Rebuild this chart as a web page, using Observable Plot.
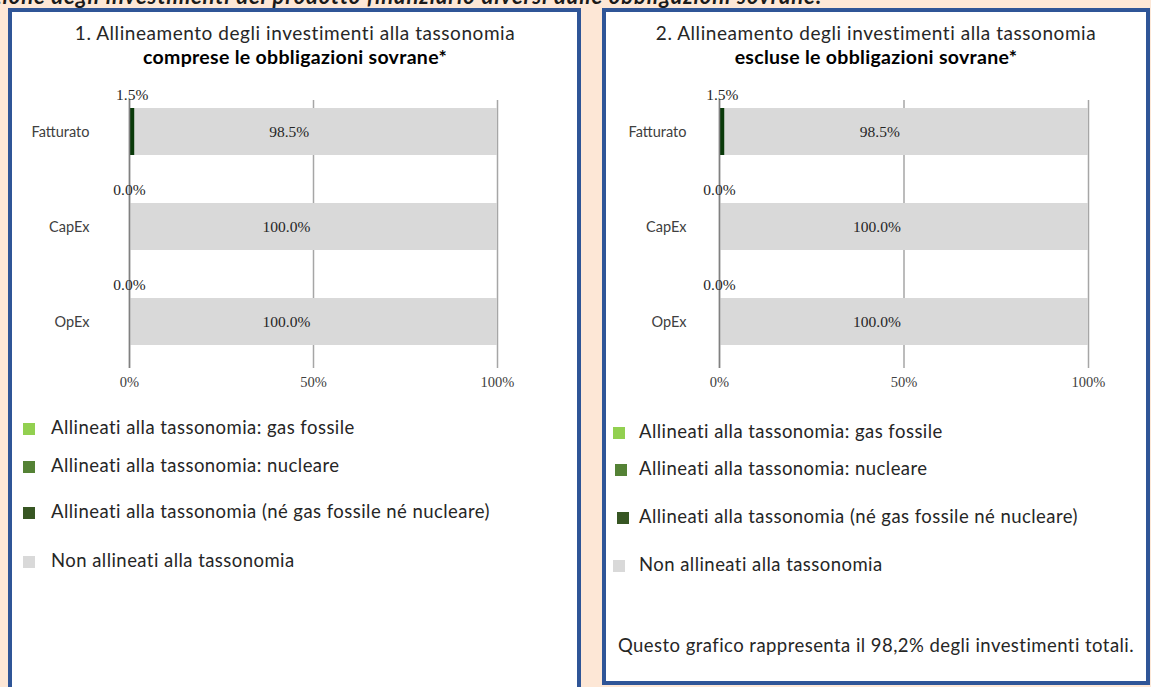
<!DOCTYPE html>
<html>
<head>
<meta charset="utf-8">
<script src="https://cdn.jsdelivr.net/npm/d3@7"></script>
<script src="https://cdn.jsdelivr.net/npm/@observablehq/plot@0.6"></script>
<style>
  html, body { margin: 0; padding: 0; }
  body { width: 1151px; height: 687px; overflow: hidden; position: relative; background: #fde7d6; font-family: Lato, "Noto Sans", sans-serif; color: #262626; }
  .abs { position: absolute; }
  .panel { position: absolute; box-sizing: border-box; border: 4px solid #2f5597; background: #fff; }
  .title { position: absolute; text-align: center; white-space: nowrap; font-size: 19px; line-height: 22px; color: #262626; }
  .legend-item { position: absolute; white-space: nowrap; font-size: 18.5px; letter-spacing: 0.45px; line-height: 22px; color: #262626; }
  .sw { position: absolute; width: 12px; height: 12px; }
  svg.chart g[aria-label="y-axis tick label"] { font-family: Lato, sans-serif; font-size: 14.5px; }
  svg.chart g[aria-label="x-axis tick label"] { font-family: "Liberation Serif", serif; font-size: 14.5px; }
  svg.chart g[aria-label="text"] { font-family: "Liberation Serif", serif; font-size: 15.5px; }
</style>
</head>
<body>
<div class="abs" id="header" style="left:-8px; top:-15px; font-weight:bold; font-style:italic; font-size:22px; letter-spacing:0.9px; line-height:22px; white-space:nowrap; color:#1a1a1a;">zione degli investimenti del prodotto finanziario diversi dalle obbligazioni sovrane:</div>
<div class="panel" style="left:8px; top:8px; width:573px; height:700px;"></div>
<div class="panel" style="left:602px; top:8px; width:548px; height:677px;"></div>
<div id="root"></div>
<script>
// ---------------- data ----------------
const categories = ["Fatturato", "CapEx", "OpEx"];
const seriesNames = [
  "Allineati alla tassonomia: gas fossile",
  "Allineati alla tassonomia: nucleare",
  "Allineati alla tassonomia (né gas fossile né nucleare)",
  "Non allineati alla tassonomia"
];
// panel 1: including sovereign bonds
const p1GasFossile = [0, 0, 0];
const p1Nucleare = [0, 0, 0];
const p1Allineati = [1.5, 0, 0];
const p1NonAllineati = [98.5, 100, 100];
// panel 2: excluding sovereign bonds
const p2GasFossile = [0, 0, 0];
const p2Nucleare = [0, 0, 0];
const p2Allineati = [1.5, 0, 0];
const p2NonAllineati = [98.5, 100, 100];
const xTicks = [0, 50, 100];
const titles1 = ["1. Allineamento degli investimenti alla tassonomia", "comprese le obbligazioni sovrane*"];
const titles2 = ["2. Allineamento degli investimenti alla tassonomia", "escluse le obbligazioni sovrane*"];
const footnote = "Questo grafico rappresenta il 98,2% degli investimenti totali.";

// ---------------- styles ----------------
const legendColors = ["#92d050", "#548235", "#375623", "#d9d9d9"];
const barColors = ["#92d050", "#548235", "#0a3a0a", "#d9d9d9"];

const root = document.getElementById("root");

function rowsFor(series) {
  const rows = [];
  categories.forEach((c, i) => {
    series.forEach((arr, s) => rows.push({category: c, series: seriesNames[s], value: arr[i]}));
  });
  return rows;
}

function makeChart(series, opt) {
  const rows = rowsFor(series);
  const labels = categories.map((c, i) => {
    const aligned = series[0][i] + series[1][i] + series[2][i];
    const non = series[3][i];
    return {category: c, aligned, alignedMain: series[2][i], non};
  });
  const chart = Plot.plot({
    className: "chart",
    width: opt.width,
    height: 313,
    marginTop: 20,
    marginBottom: 25,
    marginLeft: opt.marginLeft,
    marginRight: opt.marginRight,
    x: {domain: [0, 100]},
    y: {domain: categories, paddingInner: 0.505, paddingOuter: 0.163, align: 0.26},
    color: {domain: seriesNames, range: barColors},
    style: {background: "transparent", overflow: "visible"},
    marks: [
      Plot.ruleX(xTicks, {stroke: "#a6a6a6", strokeWidth: 1.5}),
      Plot.barX(rows, {x: "value", y: "category", fill: "series"}),
      Plot.ruleX([0], {stroke: "#808080", strokeWidth: 1.5}),
      Plot.text(labels, {x: d => d.aligned / 2, y: "category", text: d => d.alignedMain.toFixed(1) + "%", dy: -37, fill: "#262626"}),
      Plot.text(labels, {x: d => d.aligned + d.non / 2, y: "category", text: d => d.non.toFixed(1) + "%", dx: -27, fill: "#262626"}),
      Plot.axisX({ticks: xTicks, tickFormat: d => d + "%", tickSize: 0, tickPadding: 8, fill: "#404040", label: null}),
      Plot.axisY({tickSize: 0, tickPadding: opt.tickPadding, fill: "#404040", label: null})
    ]
  });
  chart.style.position = "absolute";
  chart.style.left = opt.left + "px";
  chart.style.top = "80px";
  root.appendChild(chart);
}

function addTitles(lines, cx) {
  const t1 = document.createElement("div");
  t1.className = "title";
  t1.style.left = (cx - 300) + "px"; t1.style.width = "600px"; t1.style.top = "22px";
  t1.style.letterSpacing = "0.55px";
  t1.textContent = lines[0];
  root.appendChild(t1);
  const t2 = document.createElement("div");
  t2.className = "title";
  t2.style.left = (cx - 300) + "px"; t2.style.width = "600px"; t2.style.top = "46px";
  t2.style.fontWeight = "bold";
  t2.style.fontSize = "19.5px";
  t2.style.letterSpacing = "0.3px";
  t2.style.color = "#000";
  t2.textContent = lines[1];
  root.appendChild(t2);
}

function addLegend(swX, textX, ys, swDx) {
  seriesNames.forEach((name, i) => {
    const sw = document.createElement("div");
    sw.className = "sw";
    sw.style.left = (swX + swDx[i]) + "px";
    sw.style.top = (ys[i] - 6) + "px";
    sw.style.background = legendColors[i];
    root.appendChild(sw);
    const t = document.createElement("div");
    t.className = "legend-item";
    t.style.left = textX + "px";
    t.style.top = (ys[i] - 13) + "px";
    t.textContent = name;
    root.appendChild(t);
  });
}

addTitles(titles1, 295);
addTitles(titles2, 876);
makeChart([p1GasFossile, p1Nucleare, p1Allineati, p1NonAllineati], {left: 12, width: 560, marginLeft: 117, marginRight: 75, tickPadding: 40});
makeChart([p2GasFossile, p2Nucleare, p2Allineati, p2NonAllineati], {left: 606, width: 540, marginLeft: 113, marginRight: 58, tickPadding: 33});
addLegend(23, 51, [429, 467, 513, 562], [0, 0, 0, 0]);
addLegend(613, 639, [433, 470, 518, 566], [0, 2, 4, 0]);

const fn = document.createElement("div");
fn.className = "legend-item";
fn.style.left = "606px"; fn.style.width = "540px"; fn.style.textAlign = "center";
fn.style.top = "634px";
fn.textContent = footnote;
root.appendChild(fn);
</script>
</body>
</html>
